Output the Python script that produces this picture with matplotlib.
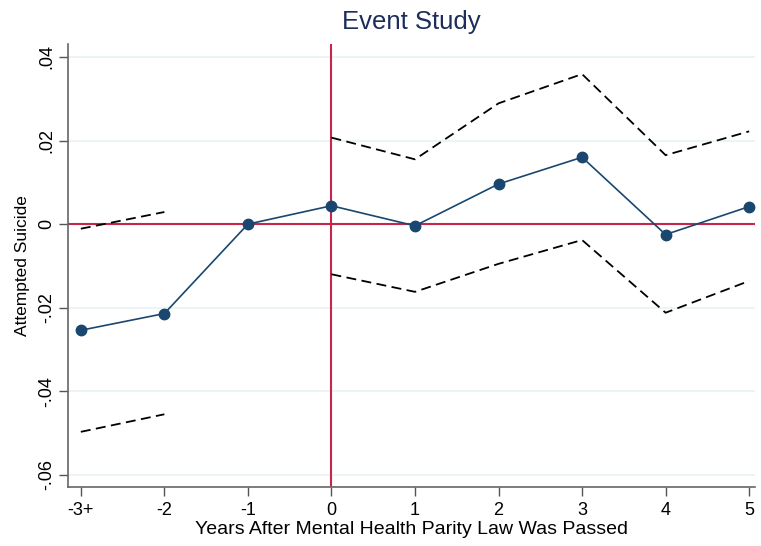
import matplotlib
matplotlib.use("Agg")
import matplotlib.pyplot as plt

# Data
x_labels = ["-3+", "-2", "-1", "0", "1", "2", "3", "4", "5"]
years = [-3, -2, -1, 0, 1, 2, 3, 4, 5]
coef = [-0.0254, -0.0214, 0.0, 0.0044, -0.0004, 0.0096, 0.0160, -0.0025, 0.0042]
pre_years = [-3, -2]
pre_upper = [-0.0011, 0.0029]
pre_lower = [-0.0497, -0.0455]
post_years = [0, 1, 2, 3, 4, 5]
post_upper = [0.0207, 0.0155, 0.0289, 0.0359, 0.0165, 0.0222]
post_lower = [-0.0120, -0.0162, -0.0095, -0.0038, -0.0212, -0.0136]
y_ticks = [-0.06, -0.04, -0.02, 0.0, 0.02, 0.04]
y_tick_labels = ["-.06", "-.04", "-.02", "0", ".02", ".04"]

plt.rcParams['font.family'] = ['Liberation Sans', 'DejaVu Sans']

fig = plt.figure(figsize=(7.61, 5.46), dpi=100)
ax = fig.add_axes([68.3/761, 1 - 487/546, (755 - 68.3)/761, (487 - 44)/546])

navy = "#1a476f"
red = "#c8254a"

for t in y_ticks:
    ax.axhline(t, color="#eaf2f3", lw=1.2, zorder=0)

ax.axhline(0, color=red, lw=1.5, zorder=1)
ax.axvline(0, color=red, lw=1.5, zorder=1)

dash = (5.5, 3)
ax.plot(pre_years, pre_upper, color="black", lw=1.3, dashes=dash, zorder=2)
ax.plot(pre_years, pre_lower, color="black", lw=1.3, dashes=dash, zorder=2)
ax.plot(post_years, post_upper, color="black", lw=1.3, dashes=dash, zorder=2)
ax.plot(post_years, post_lower, color="black", lw=1.3, dashes=dash, zorder=2)

ax.plot(years, coef, color=navy, lw=1.2, marker="o", ms=7.5, mfc=navy, mec=navy, zorder=3)

ax.set_xlim(-3.15, 5.07)
ax.set_ylim(-0.0629, 0.0431)
ax.set_xticks(years)
ax.set_xticklabels(x_labels, fontsize=13)
ax.set_yticks(y_ticks)
ax.set_yticklabels(y_tick_labels, fontsize=13, rotation=90, va="center")
ax.tick_params(axis="both", length=6.5, width=1, color="#555555", labelcolor="black", pad=3)
ax.tick_params(axis="x", pad=4)

for s in ["top", "right"]:
    ax.spines[s].set_visible(False)
for s in ["left", "bottom"]:
    ax.spines[s].set_color("#666666")
    ax.spines[s].set_linewidth(1.2)

ax.set_xlabel("Years After Mental Health Parity Law Was Passed", fontsize=14, labelpad=2)
ax.set_ylabel("Attempted Suicide", fontsize=12.5, labelpad=6)
fig.text(0.5 * (68.3 + 755) / 761, 1 - 22/546, "Event Study", fontsize=18.5,
         color="#1e2d5c", ha="center", va="center")

fig.savefig("out.png", dpi=100)
